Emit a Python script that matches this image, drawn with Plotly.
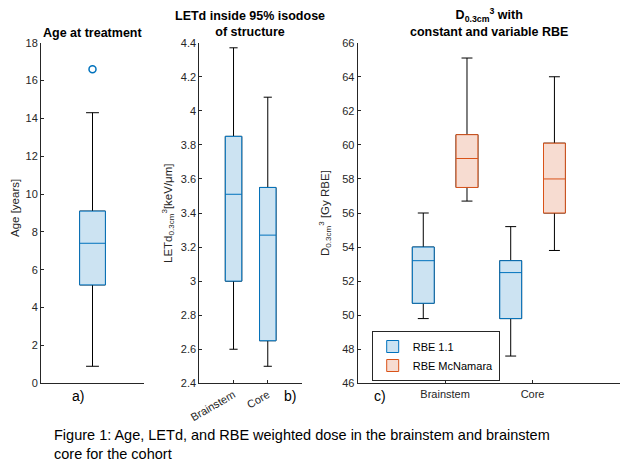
import plotly.graph_objects as go

# a) age at treatment (years)
age_lower = [0.9]
age_q1 = [5.2]
age_median = [7.4]
age_q3 = [9.1]
age_upper = [14.3]
age_outliers = [16.6]

# b) LETd inside 95% isodose
structures = ["Brainstem", "Core"]
let_lower = [2.60, 2.50]
let_q1 = [3.00, 2.65]
let_median = [3.51, 3.27]
let_q3 = [3.85, 3.55]
let_upper = [4.37, 4.08]

# c) D0.3cm3, constant vs variable RBE
rbe11_lower = [49.8, 47.6]
rbe11_q1 = [50.7, 49.8]
rbe11_median = [53.2, 52.5]
rbe11_q3 = [54.0, 53.2]
rbe11_upper = [56.0, 55.2]

mcn_lower = [56.7, 53.8]
mcn_q1 = [57.5, 56.0]
mcn_median = [59.2, 58.0]
mcn_q3 = [60.6, 60.1]
mcn_upper = [65.1, 64.0]

age_ticks = [0, 2, 4, 6, 8, 10, 12, 14, 16, 18]
let_ticks = [2.4, 2.6, 2.8, 3.0, 3.2, 3.4, 3.6, 3.8, 4.0, 4.2, 4.4]
let_ticktext = ["2.4", "2.6", "2.8", "3", "3.2", "3.4", "3.6", "3.8", "4", "4.2", "4.4"]
dose_ticks = [46, 48, 50, 52, 54, 56, 58, 60, 62, 64, 66]

BLUE = "#0072BD"
BLUE_FILL = "#CCE3F2"
ORANGE = "#D95319"
ORANGE_FILL = "#F7DCD1"
AXIS = "#262626"
FONT = "Liberation Sans"


def add_box(fig, x, lo, q1, med, q3, hi, color, fill, xa, ya, width, name=None, legend=False):
    # black whiskers underneath
    fig.add_trace(go.Box(
        x=x, lowerfence=lo, q1=q1, median=med, q3=q3, upperfence=hi,
        orientation="v", width=width, whiskerwidth=0.5,
        line=dict(color="black", width=1), fillcolor="rgba(0,0,0,0)",
        xaxis=xa, yaxis=ya, showlegend=False, hoverinfo="skip", boxpoints=False,
    ))
    # coloured box on top
    fig.add_trace(go.Box(
        x=x, lowerfence=q1, q1=q1, median=med, q3=q3, upperfence=q3,
        orientation="v", width=width, whiskerwidth=0,
        line=dict(color=color, width=1), fillcolor=fill,
        xaxis=xa, yaxis=ya, name=name, showlegend=legend, boxpoints=False,
    ))


fig = go.Figure()

# a)
add_box(fig, [1], age_lower, age_q1, age_median, age_q3, age_upper,
        BLUE, BLUE_FILL, "x", "y", 0.25)
fig.add_trace(go.Scatter(
    x=[1] * len(age_outliers), y=age_outliers, mode="markers",
    marker=dict(symbol="circle-open", size=7, color=BLUE, line=dict(width=1.5)),
    xaxis="x", yaxis="y", showlegend=False,
))

# b)
pos = [i + 1 for i in range(len(structures))]
add_box(fig, pos, let_lower, let_q1, let_median, let_q3, let_upper,
        BLUE, BLUE_FILL, "x2", "y2", 0.48)

# c)
add_box(fig, [p - 0.25 for p in pos], rbe11_lower, rbe11_q1, rbe11_median, rbe11_q3, rbe11_upper,
        BLUE, BLUE_FILL, "x3", "y3", 0.25, name="RBE 1.1", legend=True)
add_box(fig, [p + 0.25 for p in pos], mcn_lower, mcn_q1, mcn_median, mcn_q3, mcn_upper,
        ORANGE, ORANGE_FILL, "x3", "y3", 0.25, name="RBE McNamara", legend=True)

ydom = [1 - 383.3 / 465, 1 - 42.7 / 465]
common = dict(showline=True, linecolor=AXIS, linewidth=1, showgrid=False, zeroline=False,
              ticks="inside", ticklen=3, tickcolor=AXIS, automargin=False,
              tickfont=dict(size=11, color=AXIS, family=FONT))

fig.update_layout(
    width=628, height=465,
    margin=dict(l=0, r=0, t=0, b=0),
    paper_bgcolor="white", plot_bgcolor="white",
    font=dict(family=FONT, color="black"),
    boxmode="overlay",
    xaxis=dict(common, domain=[41 / 628, 144 / 628], range=[0.5, 1.5],
               anchor="y", showticklabels=False, ticks=""),
    yaxis=dict(common, domain=ydom, range=[0, 18], anchor="x",
               tickvals=age_ticks),
    xaxis2=dict(common, domain=[199.3 / 628, 302 / 628], range=[0, 3], anchor="y2",
                tickvals=pos, ticktext=structures, tickangle=-30),
    yaxis2=dict(common, domain=ydom, range=[2.4, 4.4], anchor="x2",
                tickvals=let_ticks, ticktext=let_ticktext),
    xaxis3=dict(common, domain=[357.7 / 628, 620 / 628], range=[0, 3], anchor="y3",
                tickvals=pos, ticktext=structures),
    yaxis3=dict(common, domain=ydom, range=[46, 66], anchor="x3",
                tickvals=dose_ticks),
    legend=dict(x=371.7 / 628, y=1 - 331 / 465, xanchor="left", yanchor="top",
                bgcolor="white", bordercolor=AXIS, borderwidth=1,
                font=dict(size=11, color="black", family=FONT),
                tracegroupgap=0, itemwidth=30),
)


def px_ann(text, x, y, size=11, bold=False, angle=0, xanchor="center", align="center", color="black"):
    if bold:
        text = "<b>" + text.replace("<br>", "</b><br><b>") + "</b>"
    fig.add_annotation(text=text, x=x / 628, y=1 - y / 465, xref="paper", yref="paper",
                       showarrow=False, xanchor=xanchor, yanchor="middle", align=align,
                       textangle=angle, font=dict(size=size, color=color, family=FONT))


# panel titles
px_ann("Age at treatment", 92, 33, size=12.5, bold=True)
px_ann("LETd inside 95% isodose<br>of structure", 250, 24, size=12.5, bold=True)
px_ann("D<sub>0.3cm</sub><sup>3</sup> with<br>constant and variable RBE", 489, 23, size=12.5, bold=True)

# y-axis titles
px_ann("Age [years]", 15, 208, size=11.5, angle=-90, color=AXIS)
px_ann("LETd<sub>0.3cm</sub><sup>3</sup>[keV/μm]", 168, 213, size=11.5, angle=-90, color=AXIS)
px_ann("D<sub>0.3cm</sub><sup>3</sup> [Gy RBE]", 325, 213, size=11.5, angle=-90, color=AXIS)

# panel letters
px_ann("a)", 78, 396, size=14)
px_ann("b)", 290, 396, size=14)
px_ann("c)", 380, 396, size=14)

# caption
px_ann("Figure 1: Age, LETd, and RBE weighted dose in the brainstem and brainstem<br>core for the cohort",
       52, 444, size=14.5, xanchor="left", align="left")

# page has an 8px body margin by default; drop it so the figure sits at 0,0
fig.write_html("out.html", config={"displayModeBar": False},
               post_script="document.body.style.margin = '0px';")
